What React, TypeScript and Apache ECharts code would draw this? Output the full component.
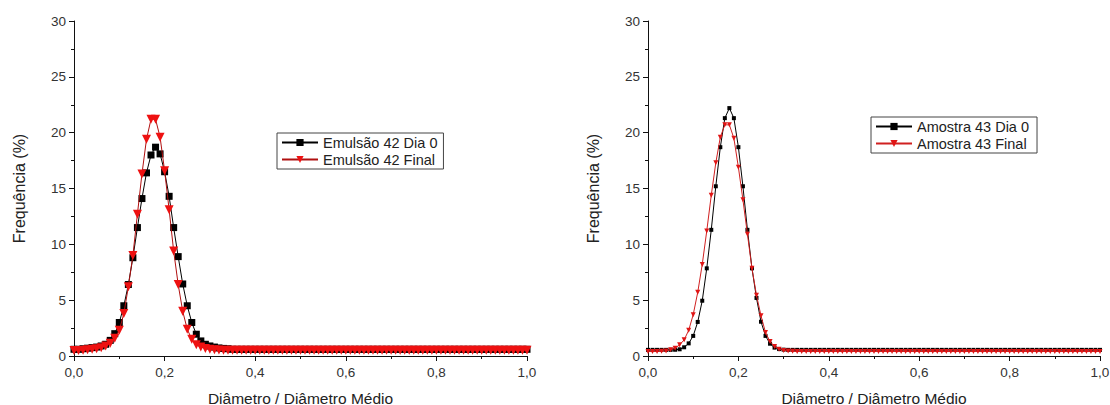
import React, { useEffect, useRef } from "react";
import * as echarts from "echarts";

// Diameter / mean diameter grid: 0.00 .. 1.00 in steps of 0.01 (101 points)
const X_STEP = 0.01;
const X_TICKS = ["0,0", "0,2", "0,4", "0,6", "0,8", "1,0"];

const emulsao42Dia0 = [
  0.6, 0.6, 0.65, 0.7, 0.75, 0.8, 0.9, 1.05, 1.4, 2.0,
  3.0, 4.5, 6.4, 8.8, 11.5, 14.1, 16.4, 18.0, 18.7, 18.1,
  16.5, 14.3, 11.5, 8.9, 6.45, 4.5, 3.0, 1.95, 1.35, 1.05,
  0.9, 0.8, 0.72, 0.68, 0.65, 0.6, 0.6, 0.6, 0.6, 0.6,
  0.6, 0.6, 0.6, 0.6, 0.6, 0.6, 0.6, 0.6, 0.6, 0.6,
  0.6, 0.6, 0.6, 0.6, 0.6, 0.6, 0.6, 0.6, 0.6, 0.6,
  0.6, 0.6, 0.6, 0.6, 0.6, 0.6, 0.6, 0.6, 0.6, 0.6,
  0.6, 0.6, 0.6, 0.6, 0.6, 0.6, 0.6, 0.6, 0.6, 0.6,
  0.6, 0.6, 0.6, 0.6, 0.6, 0.6, 0.6, 0.6, 0.6, 0.6,
  0.6, 0.6, 0.6, 0.6, 0.6, 0.6, 0.6, 0.6, 0.6, 0.6,
  0.6,
];

const emulsao42Final = [
  0.5, 0.5, 0.52, 0.55, 0.6, 0.65, 0.75, 0.9, 1.15, 1.6,
  2.3, 3.8, 6.2, 9.0, 12.7, 16.3, 19.4, 21.2, 21.2, 19.6,
  16.6, 13.1, 9.4, 6.4, 4.0, 2.4, 1.5, 1.0, 0.8, 0.68,
  0.6, 0.56, 0.54, 0.52, 0.52, 0.52, 0.52, 0.52, 0.52, 0.52,
  0.52, 0.52, 0.52, 0.52, 0.52, 0.52, 0.52, 0.52, 0.52, 0.52,
  0.52, 0.52, 0.52, 0.52, 0.52, 0.52, 0.52, 0.52, 0.52, 0.52,
  0.52, 0.52, 0.52, 0.52, 0.52, 0.52, 0.52, 0.52, 0.52, 0.52,
  0.52, 0.52, 0.52, 0.52, 0.52, 0.52, 0.52, 0.52, 0.52, 0.52,
  0.52, 0.52, 0.52, 0.52, 0.52, 0.52, 0.52, 0.52, 0.52, 0.52,
  0.52, 0.52, 0.52, 0.52, 0.52, 0.52, 0.52, 0.52, 0.52, 0.52,
  0.52,
];

const amostra43Dia0 = [
  0.55, 0.55, 0.55, 0.55, 0.55, 0.55, 0.56, 0.6, 0.78, 1.13,
  1.8, 3.05, 4.95, 7.85, 11.3, 15.2, 18.7, 21.3, 22.2, 21.3,
  18.7, 15.2, 11.3, 7.85, 5.2, 3.07, 1.8, 1.1, 0.75, 0.62,
  0.57, 0.55, 0.55, 0.55, 0.55, 0.55, 0.55, 0.55, 0.55, 0.55,
  0.55, 0.55, 0.55, 0.55, 0.55, 0.55, 0.55, 0.55, 0.55, 0.55,
  0.55, 0.55, 0.55, 0.55, 0.55, 0.55, 0.55, 0.55, 0.55, 0.55,
  0.55, 0.55, 0.55, 0.55, 0.55, 0.55, 0.55, 0.55, 0.55, 0.55,
  0.55, 0.55, 0.55, 0.55, 0.55, 0.55, 0.55, 0.55, 0.55, 0.55,
  0.55, 0.55, 0.55, 0.55, 0.55, 0.55, 0.55, 0.55, 0.55, 0.55,
  0.55, 0.55, 0.55, 0.55, 0.55, 0.55, 0.55, 0.55, 0.55, 0.55,
  0.55,
];

const amostra43Final = [
  0.4, 0.4, 0.4, 0.42, 0.45, 0.55, 0.7, 1.0, 1.45, 2.3,
  3.7, 5.7, 8.2, 11.2, 14.4, 17.3, 19.6, 20.7, 20.7, 19.5,
  16.9, 14.0, 10.9, 7.85, 5.45, 3.6, 2.1, 1.3, 0.85, 0.6,
  0.5, 0.45, 0.42, 0.4, 0.4, 0.4, 0.4, 0.4, 0.4, 0.4,
  0.4, 0.4, 0.4, 0.4, 0.4, 0.4, 0.4, 0.4, 0.4, 0.4,
  0.4, 0.4, 0.4, 0.4, 0.4, 0.4, 0.4, 0.4, 0.4, 0.4,
  0.4, 0.4, 0.4, 0.4, 0.4, 0.4, 0.4, 0.4, 0.4, 0.4,
  0.4, 0.4, 0.4, 0.4, 0.4, 0.4, 0.4, 0.4, 0.4, 0.4,
  0.4, 0.4, 0.4, 0.4, 0.4, 0.4, 0.4, 0.4, 0.4, 0.4,
  0.4, 0.4, 0.4, 0.4, 0.4, 0.4, 0.4, 0.4, 0.4, 0.4,
  0.4,
];

const FONT = "'Liberation Sans', Arial, sans-serif";

const toPairs = (vals: number[]) =>
  vals.map((v, i) => [Math.round(i * X_STEP * 100) / 100, v]);

const xAxisCfg = (gridIndex: number) => ({
  type: "value",
  gridIndex,
  min: 0,
  max: 1,
  interval: 0.2,
  name: "Diâmetro / Diâmetro Médio",
  nameLocation: "middle",
  nameGap: 34,
  nameTextStyle: { fontFamily: FONT, fontSize: 15.5, color: "#222" },
  axisLine: { show: true, onZero: false, lineStyle: { color: "#111", width: 1 } },
  axisTick: { show: true, inside: false, length: 5, lineStyle: { color: "#111" } },
  minorTick: { show: true, splitNumber: 2, length: 3, lineStyle: { color: "#111" } },
  splitLine: { show: false },
  axisLabel: {
    fontFamily: FONT,
    fontSize: 13.5,
    color: "#333",
    margin: 9,
    formatter: (v: number) => {
      const idx = Math.round(v / 0.2);
      return X_TICKS[idx] ?? "";
    },
  },
});

const yAxisCfg = (gridIndex: number) => ({
  type: "value",
  gridIndex,
  min: 0,
  max: 30,
  interval: 5,
  name: "Frequência (%)",
  nameLocation: "middle",
  nameRotate: 90,
  nameGap: 47,
  nameTextStyle: { fontFamily: FONT, fontSize: 16, color: "#222" },
  axisLine: { show: true, onZero: false, lineStyle: { color: "#111", width: 1 } },
  axisTick: { show: true, inside: false, length: 5, lineStyle: { color: "#111" } },
  minorTick: { show: true, splitNumber: 2, length: 3, lineStyle: { color: "#111" } },
  splitLine: { show: false },
  axisLabel: { fontFamily: FONT, fontSize: 13.5, color: "#333", margin: 8 },
});

export default function App() {
  const ref = useRef<HTMLDivElement>(null);

  useEffect(() => {
    if (!ref.current) return;
    const chart = echarts.init(ref.current, undefined, { renderer: "svg" });
    const legendCommon = {
      orient: "vertical",
      itemWidth: 36,
      itemHeight: 9,
      itemGap: 2,
      borderColor: "#444",
      borderWidth: 1,
      borderRadius: 0,
      backgroundColor: "#fff",
      textStyle: { fontFamily: FONT, fontSize: 14.5, color: "#222" },
    };
    chart.setOption({
      animation: false,
      backgroundColor: "#fff",
      grid: [
        { left: 74, top: 21, width: 453, height: 335, containLabel: false, outerBoundsMode: "none" },
        { left: 648, top: 21, width: 452, height: 335, containLabel: false, outerBoundsMode: "none" },
      ],
      xAxis: [xAxisCfg(0), xAxisCfg(1)],
      yAxis: [yAxisCfg(0), yAxisCfg(1)],
      legend: [
        {
          ...legendCommon,
          left: 277,
          top: 133,
          padding: [2, 6, 2, 4],
          data: ["Emulsão 42 Dia 0", "Emulsão 42 Final"],
        },
        {
          ...legendCommon,
          left: 871,
          top: 117,
          padding: [2, 8, 2, 4],
          data: ["Amostra 43 Dia 0", "Amostra 43 Final"],
        },
      ],
      series: [
        {
          name: "Emulsão 42 Dia 0",
          type: "line",
          xAxisIndex: 0,
          yAxisIndex: 0,
          data: toPairs(emulsao42Dia0),
          symbol: "rect",
          symbolSize: 7,
          itemStyle: { color: "#000" },
          lineStyle: { color: "#000", width: 1 },
          z: 2,
        },
        {
          name: "Emulsão 42 Final",
          type: "line",
          xAxisIndex: 0,
          yAxisIndex: 0,
          data: toPairs(emulsao42Final),
          symbol: "triangle",
          symbolRotate: 180,
          symbolSize: 9,
          itemStyle: { color: "#ee1111" },
          lineStyle: { color: "#b01010", width: 1 },
          z: 3,
        },
        {
          name: "Amostra 43 Dia 0",
          type: "line",
          xAxisIndex: 1,
          yAxisIndex: 1,
          data: toPairs(amostra43Dia0),
          symbol: "rect",
          symbolSize: 4,
          itemStyle: { color: "#000" },
          lineStyle: { color: "#000", width: 1 },
          z: 2,
        },
        {
          name: "Amostra 43 Final",
          type: "line",
          xAxisIndex: 1,
          yAxisIndex: 1,
          data: toPairs(amostra43Final),
          symbol: "triangle",
          symbolRotate: 180,
          symbolSize: 5,
          itemStyle: { color: "#e01515" },
          lineStyle: { color: "#d02020", width: 1 },
          z: 3,
        },
      ],
    });
    return () => chart.dispose();
  }, []);

  return (
    <div
      ref={ref}
      style={{ position: "fixed", left: 0, top: 0, width: 1110, height: 405 }}
    />
  );
}
